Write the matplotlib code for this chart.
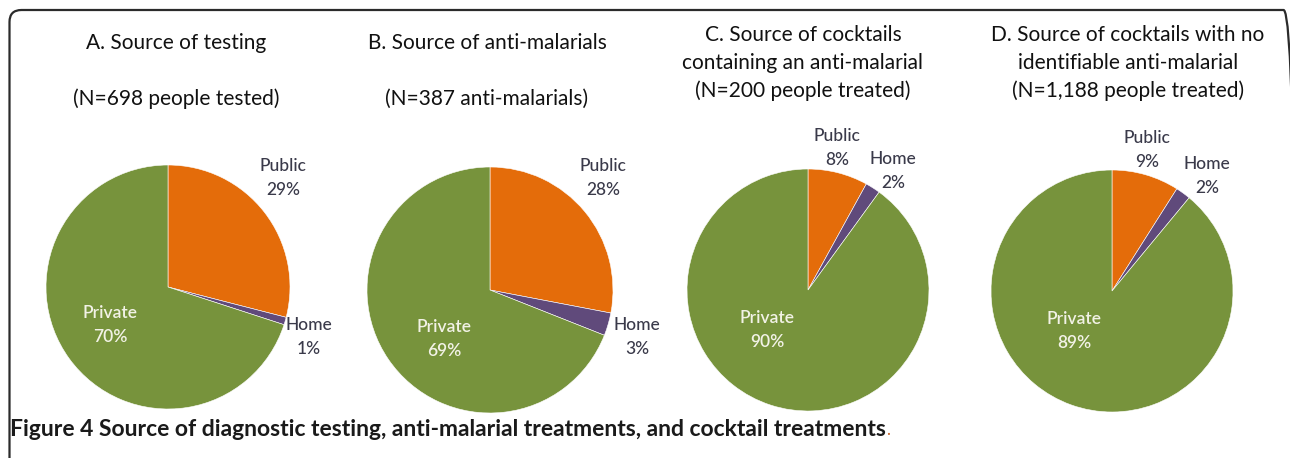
import matplotlib
matplotlib.use("Agg")
import matplotlib.pyplot as plt
from matplotlib.patches import FancyBboxPatch

# ---------------- data ----------------
categories = ["Public", "Home", "Private"]
titles = [
    "A. Source of testing\n\n(N=698 people tested)",
    "B. Source of anti-malarials\n\n(N=387 anti-malarials)",
    "C. Source of cocktails\ncontaining an anti-malarial\n(N=200 people treated)",
    "D. Source of cocktails with no\nidentifiable anti-malarial\n(N=1,188 people treated)",
]
testing = [29, 1, 70]
antimalarials = [28, 3, 69]
cocktails_am = [8, 2, 90]
cocktails_no_am = [9, 2, 89]
series = [testing, antimalarials, cocktails_am, cocktails_no_am]
caption_bold = "Figure 4 Source of diagnostic testing, anti-malarial treatments, and cocktail treatments"

# ---------------- style / layout ----------------
W, H = 1290, 458
colors = ["#E46C0A", "#604A7B", "#77933C"]
label_dark = "#3A3A4A"
label_light = "#F2F2E6"
font = ["Lato", "DejaVu Sans"]

pie_centers = [(168, 287), (490, 290), (808, 290), (1112, 291)]
pie_radius = [122, 123, 121, 121]
title_pos = [(176, 71), (487, 71), (803, 63), (1128, 63)]
# label anchor positions (center of two-line label) for Public, Home, Private
label_pos = [
    [(283, 178), (309, 337), (110, 325)],
    [(603, 178), (637, 337), (444, 339)],
    [(837, 148), (893, 171), (767, 330)],
    [(1147, 150), (1207, 176), (1074, 331)],
]

fig = plt.figure(figsize=(W / 100, H / 100), dpi=100)
ax = fig.add_axes([0, 0, 1, 1])
ax.set_xlim(0, W)
ax.set_ylim(0, H)
ax.set_aspect("equal")
ax.axis("off")

# border with rounded corners (extends past the bottom / right edge)
border = FancyBboxPatch((9.5, -40), 1286, H - 10 + 40,
                        boxstyle="round,pad=0,rounding_size=12",
                        fill=False, edgecolor="#2b2b2b", linewidth=1.6,
                        transform=ax.transData, clip_on=True)
ax.add_patch(border)

for i, vals in enumerate(series):
    cx, cy = pie_centers[i]
    ax.pie(vals, colors=colors, startangle=90, counterclock=False,
           center=(cx, H - cy), radius=pie_radius[i],
           wedgeprops=dict(linewidth=0.4, edgecolor="white"))
    tx, ty = title_pos[i]
    ax.text(tx, H - ty, titles[i], ha="center", va="center", fontsize=15,
            family=font, color="#111111", linespacing=1.5)
    for j, cat in enumerate(categories):
        lx, ly = label_pos[i][j]
        col = label_light if cat == "Private" else label_dark
        ax.text(lx, H - ly, f"{cat}\n{vals[j]}%", ha="center", va="center",
                fontsize=12.5, family=font, color=col, linespacing=1.6,
                fontweight="semibold" if cat == "Private" else "medium")

ax.set_xlim(0, W)
ax.set_ylim(0, H)
ax.set_aspect("equal")

cap = ax.text(10, H - 430, caption_bold, ha="left", va="center", fontsize=16.5,
              family=font, fontweight="bold", color="#1a1a1a")
fig.canvas.draw()
bb = cap.get_window_extent()
ax.annotate(".", xy=(bb.x1, H - 430), xycoords=("figure pixels", "data"),
            ha="left", va="center", fontsize=12, family=font,
            color="#C8642A")

fig.savefig("out.png", dpi=100)
